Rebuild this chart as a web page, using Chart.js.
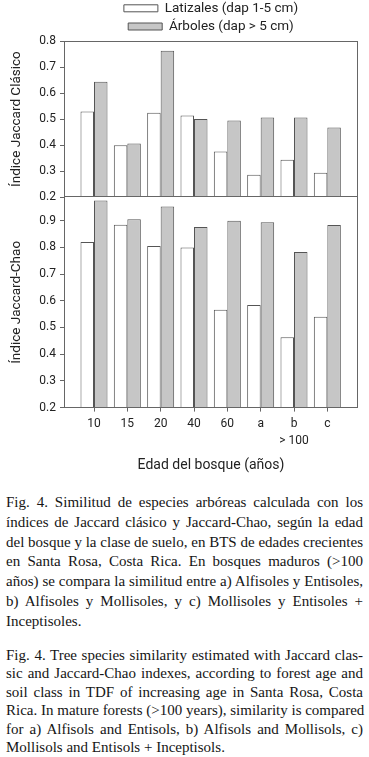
<!DOCTYPE html>
<html>
<head>
<meta charset="utf-8">
<script src="https://cdn.jsdelivr.net/npm/chart.js@4.4.1/dist/chart.umd.min.js"></script>
<style>
html,body{margin:0;padding:0;background:#fff;}
body{width:369px;height:757px;position:relative;overflow:hidden;}
#c{position:absolute;left:0;top:0;}
.cap{position:absolute;left:6px;width:357px;font-family:"Liberation Serif","Times New Roman",serif;font-size:15px;color:#151515;}
.cap div{white-space:nowrap;text-align:justify;text-align-last:justify;}
.cap div.last{text-align:left;text-align-last:left;}
#es{top:493px;line-height:19.8px;}
#en{top:645.7px;line-height:18.5px;}
</style>
</head>
<body>
<canvas id="c" width="369" height="480"></canvas>
<div class="cap" id="es">
<div>Fig. 4. Similitud de especies arbóreas calculada con los</div>
<div>índices de Jaccard clásico y Jaccard-Chao, según la edad</div>
<div>del bosque y la clase de suelo, en BTS de edades crecientes</div>
<div>en Santa Rosa, Costa Rica. En bosques maduros (&gt;100</div>
<div>años) se compara la similitud entre a) Alfisoles y Entisoles,</div>
<div>b) Alfisoles y Mollisoles, y c) Mollisoles y Entisoles +</div>
<div class="last">Inceptisoles.</div>
</div>
<div class="cap" id="en">
<div>Fig. 4. Tree species similarity estimated with Jaccard clas-</div>
<div>sic and Jaccard-Chao indexes, according to forest age and</div>
<div>soil class in TDF of increasing age in Santa Rosa, Costa</div>
<div>Rica. In mature forests (&gt;100 years), similarity is compared</div>
<div>for a) Alfisols and Entisols, b) Alfisols and Mollisols, c)</div>
<div class="last">Mollisols and Entisols + Inceptisols.</div>
</div>
<script>
// ---- data ----
const categories = ['10', '15', '20', '40', '60', 'a', 'b', 'c'];
const categoryNotes = ['', '', '', '', '', '', '> 100', ''];
const seriesNames = ['Latizales (dap 1-5 cm)', 'Árboles (dap > 5 cm)'];
const jaccardLatizales = [0.529, 0.399, 0.524, 0.514, 0.375, 0.286, 0.344, 0.294];
const jaccardArboles   = [0.643, 0.406, 0.763, 0.500, 0.494, 0.506, 0.506, 0.468];
const chaoLatizales    = [0.820, 0.885, 0.805, 0.799, 0.566, 0.584, 0.463, 0.540];
const chaoArboles      = [0.975, 0.905, 0.953, 0.876, 0.900, 0.894, 0.783, 0.884];
const yTicksTop = [0.2, 0.3, 0.4, 0.5, 0.6, 0.7, 0.8];
const yTicksBottom = [0.2, 0.3, 0.4, 0.5, 0.6, 0.7, 0.8, 0.9];
const topTitle = 'Índice Jaccard Clásico';
const bottomTitle = 'Índice Jaccard-Chao';
const xTitle = 'Edad del bosque (años)';

// ---- styles ----
const WHITE = '#ffffff', GRAY = '#c6c6c6', EDGE = '#555555', AXIS = '#666666', TEXT = '#222222';
Chart.defaults.font.family = "Roboto, 'Open Sans', sans-serif";

const pts = arr => categories.map((c, i) => ({x: i, y: arr[i]}));
const ds = (label, arr, axis, fill, stack) => ({
  label, data: pts(arr), yAxisID: axis, backgroundColor: fill,
  borderColor: EDGE, borderWidth: 1, base: 0.2, stack,
  categoryPercentage: 0.81, barPercentage: 1.0
});

const framePlugin = {
  id: 'frame',
  afterDatasetsDraw(chart) {
    const {ctx, chartArea: a, scales} = chart;
    ctx.save();
    ctx.strokeStyle = AXIS; ctx.lineWidth = 1;
    const l = Math.round(a.left) + 0.5, t = Math.round(a.top) + 0.5;
    const r = Math.round(a.right) - 0.5, b = Math.round(a.bottom) - 0.5;
    ctx.strokeRect(l, t, r - l, b - t);
    const ySep = Math.round(scales.yTop.bottom) - 0.5;
    ctx.beginPath(); ctx.moveTo(l, ySep); ctx.lineTo(r, ySep); ctx.stroke();
    ctx.restore();
  }
};

const yCommon = (ticksArr, title) => ({
  type: 'linear', position: 'left', stack: 'panels', stacked: false,
  afterBuildTicks: s => { s.ticks = ticksArr.map(v => ({value: v})); },
  afterFit: s => { s.width = 59; },
  ticks: {autoSkip: false, color: TEXT, font: {size: 12}, padding: 4, callback: v => Number(v).toFixed(1)},
  grid: {color: 'transparent', tickColor: AXIS, tickLength: 4},
  border: {display: false},
  title: {display: true, text: title, color: TEXT, font: {size: 13.5}, padding: {top: 4, bottom: 4}}
});

new Chart(document.getElementById('c'), {
  type: 'bar',
  data: {
    datasets: [
      ds(seriesNames[0], jaccardLatizales, 'yTop', WHITE, 'lat'),
      ds(seriesNames[1], jaccardArboles, 'yTop', GRAY, 'arb'),
      ds(seriesNames[0], chaoLatizales, 'yBot', WHITE, 'lat'),
      ds(seriesNames[1], chaoArboles, 'yBot', GRAY, 'arb')
    ]
  },
  options: {
    responsive: false, animation: false, devicePixelRatio: 1,
    layout: {padding: {left: 5, right: 11, top: -3.15, bottom: 2}},
    plugins: {
      legend: {
        position: 'top', fullSize: false, maxHeight: 44.15,
        labels: {boxWidth: 34, boxHeight: 7, padding: 4.7, color: TEXT, font: {size: 13.5},
                 filter: item => item.datasetIndex < 2}
      },
      tooltip: {enabled: false}
    },
    scales: {
      x: {
        type: 'linear', min: -0.9, max: 7.92, offset: false,
        afterBuildTicks: s => { s.ticks = categories.map((c, i) => ({value: i})); },
        ticks: {autoSkip: false, maxRotation: 0, padding: 4, color: TEXT, font: {size: 12, lineHeight: 1.4},
                callback: v => categoryNotes[v] ? [categories[v], categoryNotes[v]] : categories[v]},
        grid: {offset: false, color: 'transparent', tickColor: AXIS, tickLength: 4},
        border: {display: false},
        title: {display: true, text: xTitle, color: TEXT, font: {size: 14}, padding: {top: 4, bottom: 4}}
      },
      yTop: Object.assign(yCommon(yTicksTop, topTitle), {min: 0.2, max: 0.8, stackWeight: 158, weight: 2}),
      yBot: Object.assign(yCommon(yTicksBottom, bottomTitle), {min: 0.2, max: 0.988, stackWeight: 213, weight: 1})
    }
  },
  plugins: [framePlugin]
});
</script>
</body>
</html>
